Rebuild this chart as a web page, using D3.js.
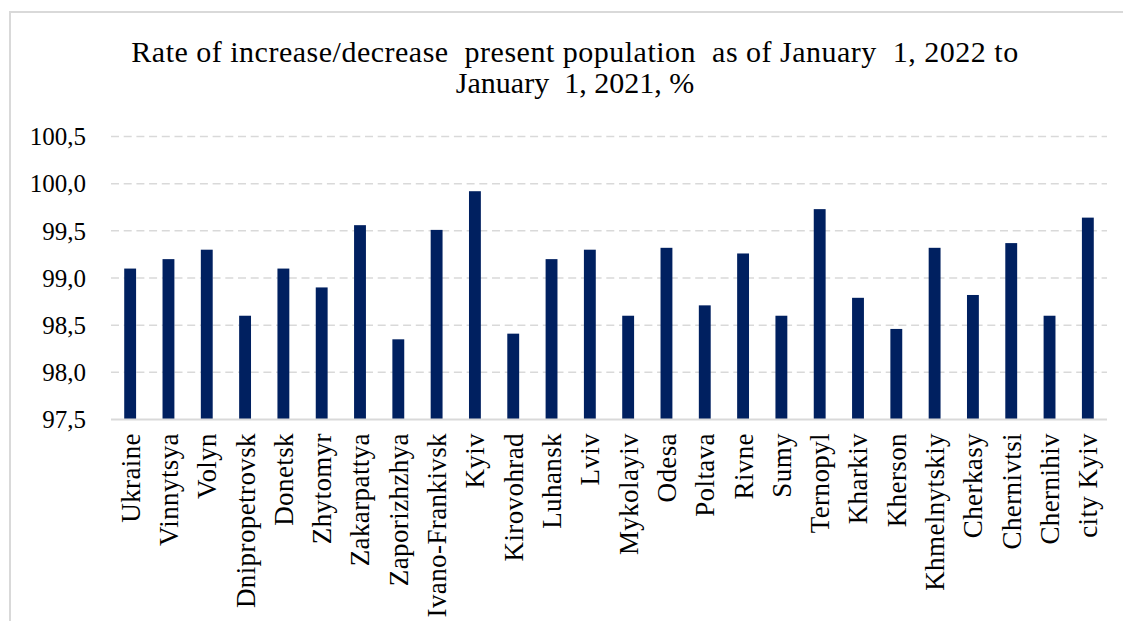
<!DOCTYPE html>
<html>
<head>
<meta charset="utf-8">
<script src="https://cdn.jsdelivr.net/npm/d3@7"></script>
<style>
  body { margin: 0; background: #fff; }
</style>
</head>
<body>
<div id="chart"></div>
<script>
// regions along the x axis
var regions = ["Ukraine", "Vinnytsya", "Volyn", "Dnipropetrovsk", "Donetsk", "Zhytomyr",
    "Zakarpattya", "Zaporizhzhya", "Ivano-Frankivsk", "Kyiv", "Kirovohrad", "Luhansk",
    "Lviv", "Mykolayiv", "Odesa", "Poltava", "Rivne", "Sumy", "Ternopyl", "Kharkiv",
    "Kherson", "Khmelnytskiy", "Cherkasy", "Chernivtsi", "Chernihiv", "city Kyiv"]

// rate, %
var rates = [99.1, 99.2, 99.3, 98.6, 99.1, 98.9,
    99.56, 98.35, 99.51, 99.92, 98.41, 99.2,
    99.3, 98.6, 99.32, 98.71, 99.26, 98.6, 99.73, 98.79,
    98.46, 99.32, 98.82, 99.37, 98.6, 99.64]

var yTicks = [97.5, 98.0, 98.5, 99.0, 99.5, 100.0, 100.5]

var titleLines = ["Rate of increase/decrease  present population  as of January  1, 2022 to",
    "January  1, 2021, %"]

var width = 1123, height = 621
var margin = {top: 136.5, right: 16, bottom: 201.5, left: 111}
var serif = "'Liberation Serif', 'Times New Roman', serif"

var svg = d3.select("#chart")
    .append("svg")
    .attr("width", width)
    .attr("height", height)

// chart frame
svg.append("rect")
    .attr("x", 10)
    .attr("y", 12)
    .attr("width", width + 20)
    .attr("height", height + 20)
    .attr("fill", "none")
    .attr("stroke", "#d9d9d9")
    .attr("stroke-width", 2)

var x = d3.scaleBand()
    .domain(regions)
    .range([margin.left, width - margin.right])
    .paddingInner(0.69)
    .paddingOuter(0.345)

var y = d3.scaleLinear()
    .domain([97.5, 100.5])
    .range([height - margin.bottom, margin.top])

var fmt = function (d) { return d3.format(".1f")(d).replace(".", ",") }

// grid lines
svg.append("g")
    .selectAll("line")
    .data(yTicks.filter(d => d > 97.5))
    .enter()
    .append("line")
    .attr("x1", margin.left)
    .attr("x2", width - margin.right)
    .attr("y1", d => y(d))
    .attr("y2", d => y(d))
    .attr("stroke", "#d9d9d9")
    .attr("stroke-width", 1.5)
    .attr("stroke-dasharray", "8,4.7")

// y labels
svg.append("g")
    .selectAll("text")
    .data(yTicks)
    .enter()
    .append("text")
    .attr("x", 86)
    .attr("y", d => y(d))
    .attr("dy", "0.35em")
    .attr("text-anchor", "end")
    .attr("font-family", serif)
    .attr("font-size", "25px")
    .attr("fill", "#000")
    .text(d => fmt(d))

// bars
svg.append("g")
    .selectAll("rect")
    .data(rates)
    .enter()
    .append("rect")
    .attr("x", (d, i) => x(regions[i]))
    .attr("width", x.bandwidth())
    .attr("y", d => y(d))
    .attr("height", d => y(97.5) - y(d))
    .attr("fill", "#002060")

// baseline
svg.append("line")
    .attr("x1", margin.left)
    .attr("x2", width - margin.right)
    .attr("y1", y(97.5))
    .attr("y2", y(97.5))
    .attr("stroke", "#d9d9d9")
    .attr("stroke-width", 2)

// x labels, rotated
svg.append("g")
    .selectAll("text")
    .data(regions)
    .enter()
    .append("text")
    .attr("transform", d => "translate(" + (x(d) + x.bandwidth() / 2) + ",433) rotate(-90)")
    .attr("dy", "0.35em")
    .attr("text-anchor", "end")
    .attr("font-family", serif)
    .attr("font-size", "27px")
    .attr("letter-spacing", "0.4px")
    .attr("fill", "#000")
    .text(d => d)

// title
svg.append("g")
    .selectAll("text")
    .data(titleLines)
    .enter()
    .append("text")
    .attr("x", 575)
    .attr("y", (d, i) => 62 + i * 31)
    .attr("text-anchor", "middle")
    .attr("font-family", serif)
    .attr("font-size", "30px")
    .attr("letter-spacing", (d, i) => i == 0 ? "0.5px" : "0px")
    .attr("fill", "#000")
    .attr("xml:space", "preserve")
    .style("white-space", "pre")
    .text(d => d)
</script>
</body>
</html>
